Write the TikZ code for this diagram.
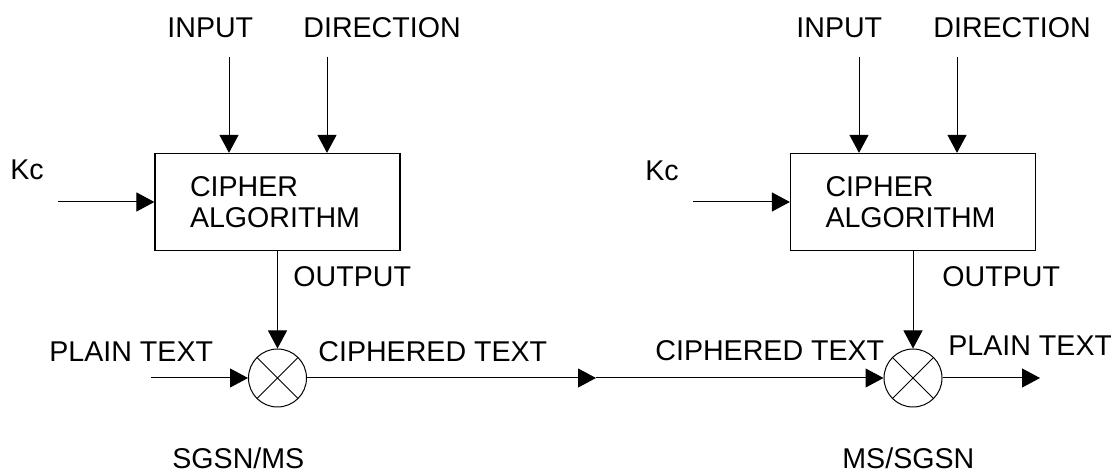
\documentclass[tikz,border=0pt]{standalone}
\usepackage{fontspec}
\setmainfont{Liberation Sans}
\usetikzlibrary{arrows.meta}
\begin{document}
\begin{tikzpicture}[x=0.5pt, y=-0.5pt, >={Triangle[length=9pt,width=9.5pt]},
	txt/.style={anchor=west, inner sep=0pt, font=\fontsize{14.3}{15.5}\selectfont},
	algbox/.style={draw, line width=0.6pt, align=left, text width=87.5pt, inner xsep=17.5pt, minimum height=48.5pt, font=\fontsize{14.3}{15.5}\selectfont},
	xorbox/.style={circle, draw, line width=0.5pt, minimum size=29pt, inner sep=0pt,
		path picture={\draw[line width=0.4pt] (path picture bounding box.north west) -- (path picture bounding box.south east)
			(path picture bounding box.north east) -- (path picture bounding box.south west);}},
	arr/.style={->, line width=0.5pt}]
	\useasboundingbox (0,0) rectangle (1111,474);
	
	% Khối bên trái: SGSN/MS
	\node[algbox] (algL) at (277.5,202) {CIPHER\\ALGORITHM};
	\node[xorbox] (xorL) at (277.5,378) {};
	\node[txt] (inL) at (167,28) {INPUT};
	\node[txt] (dirL) at (303,28) {DIRECTION};
	\node[txt] (kcL) at (10,170) {Kc};
	\node[txt] (outL) at (293,277) {OUTPUT};
	\node[txt] (plainL) at (49,352) {PLAIN TEXT};
	\node[txt] (ciphL) at (318,352) {CIPHERED TEXT};
	\node[txt] (nodeL) at (172,458) {SGSN/MS};
	\coordinate (inLs) at (229,57);
	\coordinate (dirLs) at (327,57);
	\coordinate (kcLs) at (58,202);
	\coordinate (plainLs) at (151,378);
	\draw[arr] (inLs) -- (inLs |- algL.north);
	\draw[arr] (dirLs) -- (dirLs |- algL.north);
	\draw[arr] (kcLs) -- (algL.west);
	\draw[arr] (algL.south) -- (xorL.north);
	\draw[arr] (plainLs) -- (xorL.west);
	
	% Đường truyền ở giữa
	\coordinate (midC) at (596,378);
	\draw[arr] (xorL.east) -- (midC);
	
	% Khối bên phải: MS/SGSN
	\node[algbox] (algR) at (913,202) {CIPHER\\ALGORITHM};
	\node[xorbox] (xorR) at (913,378) {};
	\node[txt] (inR) at (796,28) {INPUT};
	\node[txt] (dirR) at (933,28) {DIRECTION};
	\node[txt] (kcR) at (645,171) {Kc};
	\node[txt] (outR) at (942,277) {OUTPUT};
	\node[txt] (ciphR) at (655,351) {CIPHERED TEXT};
	\node[txt] (plainR) at (948,346) {PLAIN TEXT};
	\node[txt] (nodeR) at (842,458) {MS/SGSN};
	\coordinate (inRs) at (859,57);
	\coordinate (dirRs) at (957,57);
	\coordinate (kcRs) at (693,202);
	\coordinate (plainRe) at (1040,378);
	\draw[arr] (inRs) -- (inRs |- algR.north);
	\draw[arr] (dirRs) -- (dirRs |- algR.north);
	\draw[arr] (kcRs) -- (algR.west);
	\draw[arr] (algR.south) -- (xorR.north);
	\draw[arr] (midC) -- (xorR.west);
	\draw[arr] (xorR.east) -- (plainRe);
\end{tikzpicture}
\end{document}
